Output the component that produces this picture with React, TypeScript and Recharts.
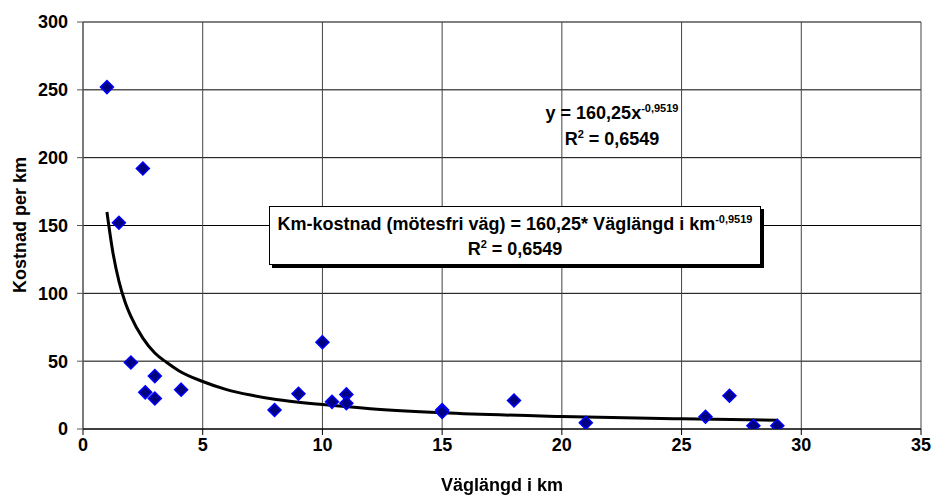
import { ComposedChart, Scatter, Line, XAxis, YAxis, CartesianGrid } from 'recharts'

// observed road sections: length in km and cost per km
const LENGTH_KM = [1, 1.5, 2.5, 2, 2.6, 3, 3, 4.1, 8, 9, 10, 10.4, 11, 11, 15, 15, 18, 21, 26, 27, 28, 29]
const COST_PER_KM = [252, 152, 192, 49, 27, 39, 22.5, 29, 14, 26, 64, 20, 25.5, 19, 14, 12.5, 21, 4.6, 9, 24.5, 2.4, 2.4]

// power trendline
const TREND_X = [1, 1.25, 1.5, 1.75, 2, 2.5, 3, 3.5, 4, 5, 6, 7, 8, 10, 12, 15, 20, 25, 29]
const TREND_Y = [160, 130, 109, 94, 83, 67, 56, 49, 43, 35, 29, 25, 22, 18, 15, 12, 9.2, 7.5, 6.4]

const X_TICKS = [0, 5, 10, 15, 20, 25, 30, 35]
const Y_TICKS = [0, 50, 100, 150, 200, 250, 300]

const points = LENGTH_KM.map((x, i) => ({ x, y: COST_PER_KM[i] }))
const trend = TREND_X.map((x, i) => ({ x, y: TREND_Y[i] }))

const FONT = '"Liberation Sans", Arial, sans-serif'
const tickStyle = { fill: '#000', fontSize: 18, fontWeight: 700, fontFamily: FONT }
const supStyle = { fontSize: 11, verticalAlign: 7, lineHeight: 0 }

function Diamond(props: any) {
  const { cx, cy } = props
  if (cx == null || cy == null) return null
  const r = 6.5
  return (
    <polygon
      points={`${cx},${cy - r} ${cx + r},${cy} ${cx},${cy + r} ${cx - r},${cy}`}
      fill="#000080"
      stroke="#0000ff"
      strokeWidth={1.5}
    />
  )
}

export default function App() {
  return (
    <div
      style={{
        position: 'fixed',
        left: 0,
        top: 0,
        width: 933,
        height: 497,
        background: '#fff',
        fontFamily: FONT,
        fontWeight: 700,
        color: '#000',
      }}
    >
      <ComposedChart
        width={933}
        height={497}
        margin={{ top: 22, right: 12, bottom: 0, left: 0 }}
      >
        <CartesianGrid horizontal vertical={false} stroke="#000" strokeWidth={1} />
        <CartesianGrid horizontal={false} vertical stroke="#444" strokeWidth={1} />
        <XAxis
          dataKey="x"
          type="number"
          domain={[0, 35]}
          ticks={X_TICKS}
          height={68}
          tick={tickStyle}
          tickSize={6}
          tickMargin={3}
          stroke="#000"
          allowDataOverflow
        />
        <YAxis
          dataKey="y"
          type="number"
          domain={[0, 300]}
          ticks={Y_TICKS}
          width={83}
          tick={tickStyle}
          tickSize={6}
          tickMargin={9}
          stroke="#555"
          allowDataOverflow
        />
        <Line
          data={trend}
          dataKey="y"
          type="monotone"
          stroke="#000"
          strokeWidth={3}
          dot={false}
          activeDot={false}
          isAnimationActive={false}
        />
        <Scatter data={points} dataKey="y" shape={<Diamond />} isAnimationActive={false} />
      </ComposedChart>

      <div
        style={{
          position: 'absolute',
          left: 0,
          top: 475,
          width: 1004,
          textAlign: 'center',
          fontSize: 18,
        }}
      >
        Väglängd i km
      </div>
      <div
        style={{
          position: 'absolute',
          left: 20,
          top: 225,
          transform: 'translate(-50%, -50%) rotate(-90deg)',
          whiteSpace: 'nowrap',
          fontSize: 18,
        }}
      >
        Kostnad per km
      </div>

      <div
        style={{
          position: 'absolute',
          left: 532,
          top: 100,
          width: 160,
          textAlign: 'center',
          fontSize: 18,
          lineHeight: '26px',
        }}
      >
        <div>
          y = 160,25x<sup style={supStyle}>-0,9519</sup>
        </div>
        <div>
          R<sup style={supStyle}>2</sup> = 0,6549
        </div>
      </div>

      <div
        style={{
          position: 'absolute',
          left: 269,
          top: 206,
          width: 492,
          height: 59,
          boxSizing: 'border-box',
          border: '1px solid #000',
          boxShadow: '3px 3px 0 #000',
          background: '#fff',
          textAlign: 'center',
          fontSize: 18,
          lineHeight: '25px',
          paddingTop: 5,
          whiteSpace: 'nowrap',
        }}
      >
        <div>
          Km-kostnad (mötesfri väg) = 160,25* Väglängd i km
          <sup style={supStyle}>-0,9519</sup>
        </div>
        <div>
          R<sup style={supStyle}>2</sup> = 0,6549
        </div>
      </div>
    </div>
  )
}
